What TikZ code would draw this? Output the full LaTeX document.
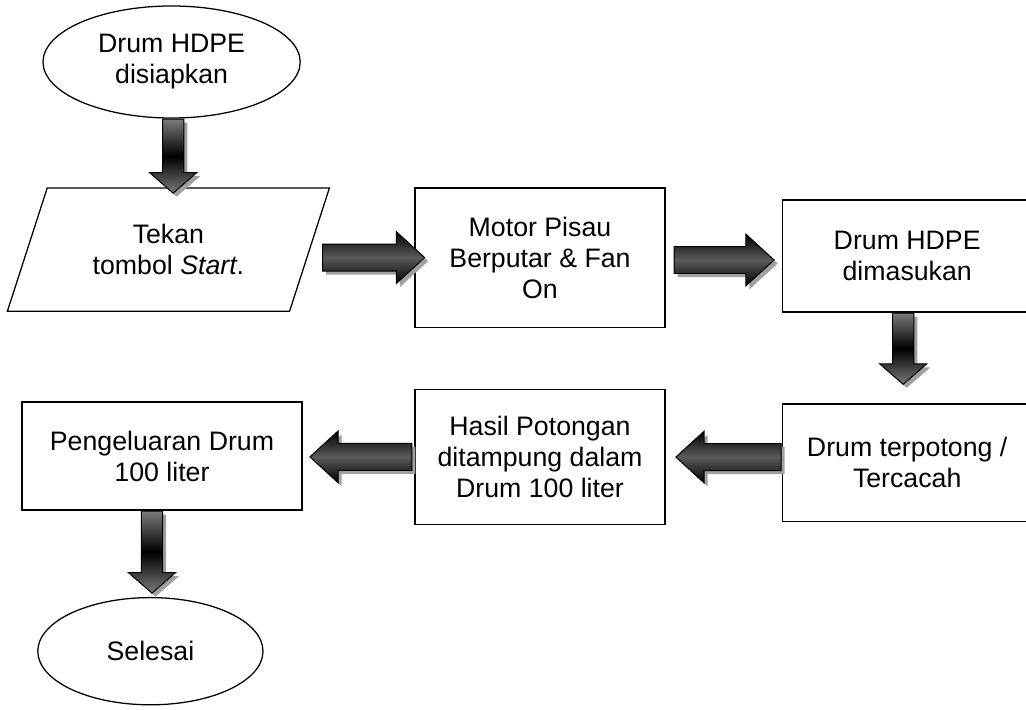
\documentclass[tikz,border=0pt]{standalone}
\usepackage{fontspec}
\setmainfont{Liberation Sans}
\usepackage{tikz}
\usetikzlibrary{positioning,shapes.geometric,shapes.arrows,shadows}
\definecolor{ink}{HTML}{000000}
\definecolor{shaftgray}{HTML}{5A5A5A}
\definecolor{downgray}{HTML}{7A7A7A}
\definecolor{shadowgray}{HTML}{A0A0A0}
\tikzset{
  flowfont/.style={font=\fontsize{19}{22}\selectfont},
  stepbox/.style={
    draw=ink,
    line width=0.9pt,
    rectangle,
    minimum width=6.25cm,
    align=center,
    text=ink,
    flowfont
  },
  termbox/.style={stepbox, ellipse, minimum width=0pt},
  inputbox/.style={
    stepbox,
    trapezium,
    trapezium left angle=56.4,
    trapezium right angle=123.6,
    trapezium stretches body,
    minimum width=8.05cm,
    minimum height=3.08cm
  },
  fatarrow/.style={
    single arrow,
    draw=ink,
    line width=0.7pt,
    anchor=tail,
    inner sep=0pt,
    inner ysep=0.325cm,
    single arrow head extend=0.31cm,
    single arrow tip angle=85,
    top color=ink,
    bottom color=ink,
    middle color=shaftgray,
    drop shadow={shadow xshift=2.5pt, shadow yshift=-2.5pt, fill=shadowgray, opacity=1}
  },
  fatdown/.style={
    fatarrow,
    shape border rotate=270,
    inner ysep=0pt,
    inner xsep=0.255cm,
    single arrow head extend=0.32cm,
    single arrow tip angle=98,
    top color=downgray,
    bottom color=downgray,
    middle color=ink
  },
  fatleft/.style={fatarrow, shape border rotate=180}
}

\begin{document}
\begin{tikzpicture}
  \clip (0,0) rectangle (25.65,-17.75);

  \node[termbox, minimum width=6.43cm, minimum height=2.8cm] (start) at (4.29,-1.55) {Drum HDPE\\disiapkan};
  \node[inputbox] (in) at (4.21,-6.24) {Tekan\\tombol \textit{Start}.};
  \node[stepbox, minimum height=3.48cm] (motor) at (13.5,-6.44) {Motor Pisau\\Berputar \& Fan\\On};
  \node[stepbox, minimum height=2.8cm] (masuk) at (22.68,-6.4) {Drum HDPE\\dimasukan};
  \node[stepbox, below=2.27cm of masuk, minimum height=2.93cm] (potong) {Drum terpotong /\\Tercacah};
  \node[stepbox, below=1.52cm of motor, minimum height=3.38cm] (hasil) {Hasil Potongan\\ditampung dalam\\Drum 100 liter};
  \node[stepbox, minimum width=7cm, minimum height=2.7cm] (keluar) at (4.05,-11.4) {Pengeluaran Drum\\100 liter};
  \node[termbox, minimum width=5.63cm, minimum height=2.68cm] (end) at (3.76,-16.28) {Selesai};

  \node[fatdown, minimum height=1.85cm] (a1) at ([xshift=0.04cm]start.south) {};
  \node[fatarrow, minimum height=2.55cm] (a2) at ([xshift=0.3cm,yshift=-0.2cm]in.east) {};
  \node[fatarrow, minimum height=2.5cm] (a3) at ([xshift=0.2cm,yshift=-0.06cm]motor.east) {};
  \node[fatdown, minimum height=1.78cm] (a4) at ([xshift=-0.1cm]masuk.south) {};
  \node[fatleft, minimum height=2.63cm] (a5) at ([yshift=0.14cm]potong.west) {};
  \node[fatleft, minimum height=2.55cm] (a6) at ([xshift=-0.05cm]hasil.west) {};
  \node[fatdown, minimum height=2.05cm] (a7) at ([xshift=-0.25cm]keluar.south) {};
\end{tikzpicture}
\end{document}
